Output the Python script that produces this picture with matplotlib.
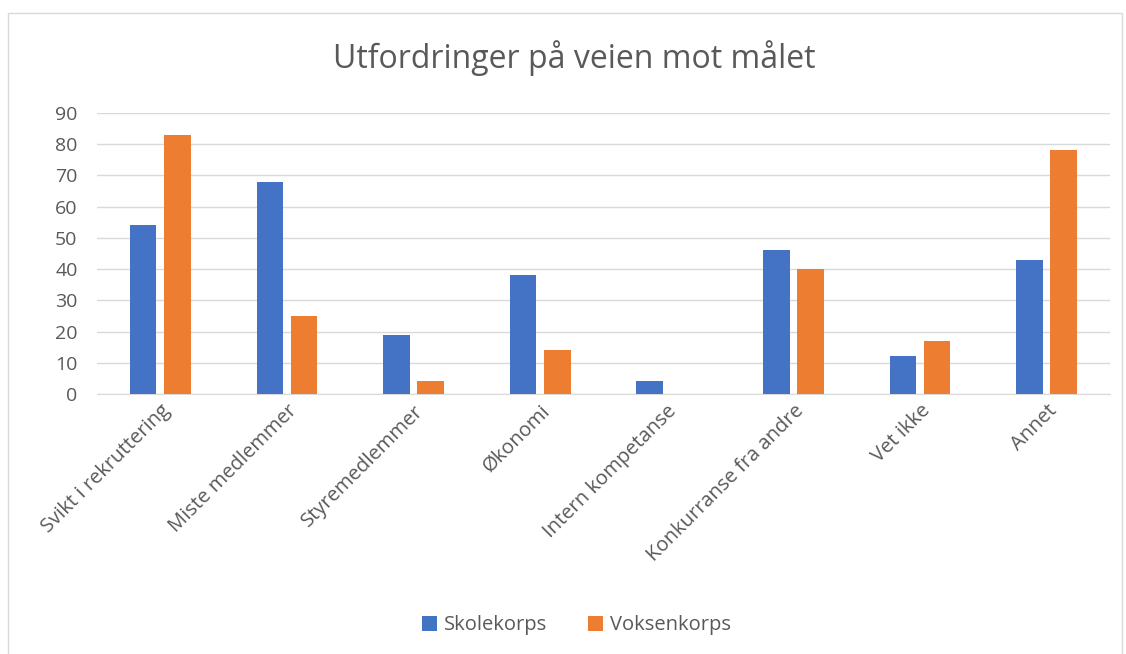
import matplotlib.pyplot as plt
import matplotlib.patches as patches
import numpy as np

categories = ["Svikt i rekruttering", "Miste medlemmer", "Styremedlemmer", "Økonomi",
              "Intern kompetanse", "Konkurranse fra andre", "Vet ikke", "Annet"]
skolekorps = [54, 68, 19, 38, 4, 46, 12, 43]
voksenkorps = [83, 25, 4, 14, 0, 40, 17, 78]
yticks = [0, 10, 20, 30, 40, 50, 60, 70, 80, 90]

plt.rcParams['font.family'] = ['Open Sans', 'DejaVu Sans']
grey = '#595959'

fig = plt.figure(figsize=(11.26, 6.54), dpi=100)
ax = fig.add_axes([0.0861, 0.3976, 0.8997, 0.4297])

# chart border
fig.patches.append(patches.Rectangle((8 / 1126, -0.01), 1114 / 1126, 1 - 13 / 654 + 0.01,
                                     transform=fig.transFigure, fill=False,
                                     edgecolor='#d9d9d9', lw=1))

x = np.arange(len(categories))
w = 0.21
ax.bar(x - 0.135, skolekorps, w, color='#4472c4', label='Skolekorps', zorder=3)
ax.bar(x + 0.135, voksenkorps, w, color='#ed7d31', label='Voksenkorps', zorder=3)

ax.set_xlim(-0.5, len(categories) - 0.5)
ax.set_ylim(0, 90)
ax.set_yticks(yticks)
ax.yaxis.grid(True, color='#d9d9d9', lw=1, zorder=0)
for s in ['top', 'right', 'left']:
    ax.spines[s].set_visible(False)
ax.spines['bottom'].set_color('#d9d9d9')
ax.tick_params(axis='both', length=0, colors=grey)
ax.tick_params(axis='y', pad=14, labelsize=14)
ax.tick_params(axis='x', pad=5, labelsize=14.5)
ax.set_xticks(x)
ax.set_xticklabels(categories, rotation=45, ha='right', rotation_mode='anchor')

fig.text(0.51, 0.911, 'Utfordringer på veien mot målet', ha='center', va='center',
         fontsize=23, color=grey)

fig.legend(loc='center', bbox_to_anchor=(0.512, 0.044), ncol=2, frameon=False,
           fontsize=14.5, labelcolor=grey, handlelength=0.75, handleheight=0.75,
           handletextpad=0.35, columnspacing=2)

fig.savefig('out.png', dpi=100)
